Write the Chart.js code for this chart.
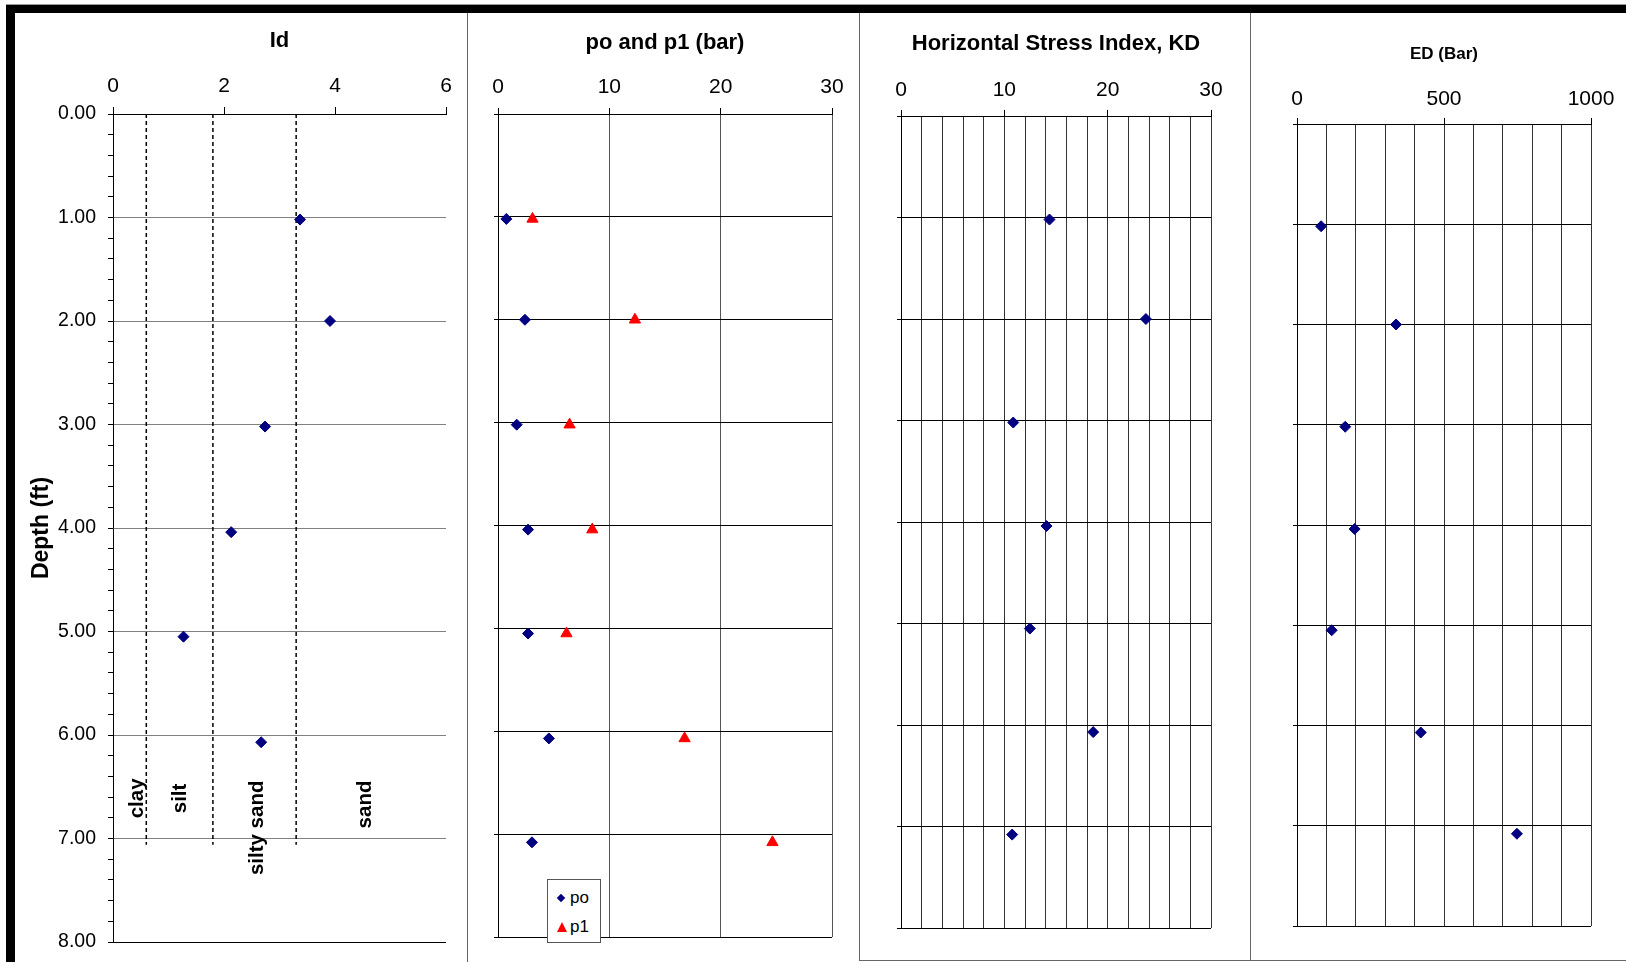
<!DOCTYPE html>
<html>
<head>
<meta charset="utf-8">
<title>DMT profile</title>
<script src="https://cdn.jsdelivr.net/npm/chart.js@4.4.1/dist/chart.umd.min.js"></script>
<style>
  body { margin: 0; background: #fff; width: 1626px; height: 962px; overflow: hidden; position: relative; font-family: "Liberation Sans", Arial, sans-serif; }
  canvas, .line { position: absolute; }
  .legend { position: absolute; left: 547px; top: 879px; width: 52px; height: 62px; border: 1px solid #555; background: #fff; font-size: 17px; color: #000; z-index: 2; }
  .legend div { position: absolute; left: 22px; line-height: 20px; }
  .diamond { position: absolute; width: 6px; height: 6px; background: #000080; transform: rotate(45deg); }
  .tri { position: absolute; width: 0; height: 0; border-left: 5.5px solid transparent; border-right: 5.5px solid transparent; border-bottom: 10px solid #f00; }
</style>
</head>
<body>
<div class="line" style="left:6px;top:4px;width:1620px;height:1px;background:#999"></div>
<div class="line" style="left:6px;top:5px;width:1620px;height:8px;background:#000"></div>
<div class="line" style="left:6px;top:5px;width:9px;height:957px;background:#000"></div>
<div class="line" style="left:467px;top:13px;width:1px;height:949px;background:#666"></div>
<div class="line" style="left:859px;top:13px;width:1px;height:948px;background:#666"></div>
<div class="line" style="left:1250px;top:13px;width:1px;height:948px;background:#666"></div>
<div class="line" style="left:859px;top:960px;width:767px;height:1px;background:#666"></div>

<canvas id="id_canvas" width="450" height="948" style="left:16px;top:14px"></canvas>
<canvas id="p_canvas" width="390" height="948" style="left:468px;top:14px"></canvas>
<canvas id="kd_canvas" width="389" height="946" style="left:860px;top:14px"></canvas>
<canvas id="ed_canvas" width="375" height="946" style="left:1251px;top:14px"></canvas>

<div class="legend">
  <span class="diamond" style="left:10px;top:15px"></span><div style="top:8px">po</div>
  <span class="tri" style="left:9px;top:42px"></span><div style="top:37px">p1</div>
</div>

<script>
// depth of each test (ft)
const depth = [1.02, 2.00, 3.02, 4.04, 5.05, 6.07, 7.08];
const idValues = [3.37, 3.91, 2.74, 2.13, 1.27, 2.67, null];
const poValues = [0.75, 2.42, 1.68, 2.70, 2.70, 4.57, 3.05];
const p1Values = [3.1, 12.3, 6.43, 8.47, 6.15, 16.76, 24.65];
const kdValues = [14.37, 23.7, 10.86, 14.08, 12.47, 18.6, 10.76];
const edValues = [82, 337, 164, 196, 118, 421, 748];

// soil type boundaries on Id
const zoneLimits = [0.6, 1.8, 3.3];
const zoneLineBottom = 7.06;
const soilZones = ['clay', 'silt', 'silty sand', 'sand'];

Chart.defaults.font.family = '"Liberation Sans", Arial, sans-serif';
Chart.defaults.color = '#000';

const isStep = (v, s) => Math.abs(v / s - Math.round(v / s)) < 1e-6;
const points = vals => depth.map((d, i) => ({ x: vals[i], y: d })).filter(p => p.x !== null);

const navy = { pointStyle: 'rectRot', pointRadius: 5.5, backgroundColor: '#000080', borderColor: '#000080', borderWidth: 1 };

const soilLabels = {
    id: 'soilLabels',
    afterDatasetsDraw(chart) {
        const { ctx, scales: { x, y } } = chart;
        const labelX = [0.43, 1.21, 2.6, 4.54];
        const labelTop = [6.42, 6.47, 6.44, 6.44];
        ctx.save();
        ctx.font = 'bold 20.5px "Liberation Sans", Arial, sans-serif';
        ctx.fillStyle = '#000';
        ctx.textAlign = 'right';
        ctx.textBaseline = 'middle';
        soilZones.forEach((name, i) => {
            ctx.save();
            ctx.translate(x.getPixelForValue(labelX[i]), y.getPixelForValue(labelTop[i]));
            ctx.rotate(-Math.PI / 2);
            ctx.fillText(name, 0, 0);
            ctx.restore();
        });
        ctx.restore();
    }
};

// keep tick labels from pushing the plot area in
function noEdgePadding(s) {
    s.paddingTop = 0;
    s.paddingBottom = 0;
}

// y axis shared by the right three panels (no labels)
function depthAxis(width) {
    return {
        type: 'linear', reverse: true, min: 0, max: 8,
        ticks: { stepSize: 1, display: false },
        grid: { color: '#000', tickLength: 4 },
        border: { color: '#000' },
        afterFit: s => { s.width = width; noEdgePadding(s); }
    };
}

const idCanvas = document.getElementById('id_canvas');

new Chart(idCanvas, {
    type: 'scatter',
    data: {
        datasets: [
            { label: 'Id', data: points(idValues), ...navy },
            ...zoneLimits.map(v => ({
                data: [{ x: v, y: 0 }, { x: v, y: zoneLineBottom }],
                showLine: true, borderColor: '#000', borderWidth: 1.5, borderDash: [4, 3], pointRadius: 0
            }))
        ]
    },
    options: {
        responsive: false, animation: false,
        layout: { padding: { left: 0, top: 0, right: 20, bottom: 20 } },
        plugins: { legend: { display: false }, tooltip: { enabled: false } },
        scales: {
            x: {
                type: 'linear', position: 'top', min: 0, max: 6,
                ticks: { stepSize: 2, padding: 8, font: { size: 21 }, maxRotation: 0, autoSkip: false },
                grid: { drawOnChartArea: false, tickLength: 7, color: '#000' },
                border: { color: '#000' },
                title: { display: true, text: 'Id', font: { size: 22, weight: 'bold' }, padding: { top: 14, bottom: 0 } },
                afterFit: s => { s.height = 100; }
            },
            y: {
                type: 'linear', reverse: true, min: 0, max: 8,
                ticks: {
                    stepSize: 0.2, maxTicksLimit: 1000, autoSkip: false, padding: 12, font: { size: 19.5 },
                    callback: v => isStep(v, 1) ? v.toFixed(2) : ''
                },
                grid: {
                    color: c => (c.tick.value === 0 || c.tick.value === 8) ? '#000' : isStep(c.tick.value, 1) ? '#808080' : 'transparent',
                    tickColor: '#000', tickLength: 5
                },
                border: { color: '#000' },
                title: { display: true, text: 'Depth (ft)', font: { size: 23, weight: 'bold' }, padding: { top: 12, bottom: 0 } },
                afterFit: s => { s.width = 97; noEdgePadding(s); }
            }
        }
    },
    plugins: [soilLabels]
});

const pCanvas = document.getElementById('p_canvas');

new Chart(pCanvas, {
    type: 'scatter',
    data: {
        datasets: [
            { label: 'po', data: points(poValues), ...navy },
            { label: 'p1', data: points(p1Values), pointStyle: 'triangle', pointRadius: 6.5, backgroundColor: '#ff0000', borderColor: '#ff0000', borderWidth: 1 }
        ]
    },
    options: {
        responsive: false, animation: false,
        layout: { padding: { left: 0, top: 0, right: 26, bottom: 25 } },
        plugins: { legend: { display: false }, tooltip: { enabled: false } },
        scales: {
            x: {
                type: 'linear', position: 'top', min: 0, max: 30,
                ticks: { stepSize: 10, padding: 8, font: { size: 21 }, maxRotation: 0, autoSkip: false },
                grid: { color: '#555', tickColor: '#000', tickLength: 6 },
                border: { color: '#000' },
                title: { display: true, text: 'po and p1 (bar)', font: { size: 22, weight: 'bold' }, padding: { top: 16, bottom: 0 } },
                afterFit: s => { s.height = 100; }
            },
            y: depthAxis(30)
        }
    }
});

const kdCanvas = document.getElementById('kd_canvas');

new Chart(kdCanvas, {
    type: 'scatter',
    data: {
        datasets: [{ label: 'KD', data: points(kdValues), ...navy }]
    },
    options: {
        responsive: false, animation: false,
        layout: { padding: { left: 0, top: 0, right: 38, bottom: 32 } },
        plugins: { legend: { display: false }, tooltip: { enabled: false } },
        scales: {
            x: {
                type: 'linear', position: 'top', min: 0, max: 30,
                ticks: {
                    stepSize: 2, padding: 7, font: { size: 21 }, maxRotation: 0, autoSkip: false,
                    callback: v => isStep(v, 10) ? v : ''
                },
                grid: { color: '#333', tickColor: c => isStep(c.tick.value, 10) ? '#000' : 'transparent', tickLength: 6 },
                border: { color: '#000' },
                title: { display: true, text: 'Horizontal Stress Index, KD', font: { size: 22, weight: 'bold' }, padding: { top: 17, bottom: 0 } },
                afterFit: s => { s.height = 102; }
            },
            y: depthAxis(41)
        }
    }
});

const edCanvas = document.getElementById('ed_canvas');

new Chart(edCanvas, {
    type: 'scatter',
    data: {
        datasets: [{ label: 'ED', data: points(edValues), ...navy }]
    },
    options: {
        responsive: false, animation: false,
        layout: { padding: { left: 0, top: 0, right: 35, bottom: 34 } },
        plugins: { legend: { display: false }, tooltip: { enabled: false } },
        scales: {
            x: {
                type: 'linear', position: 'top', min: 0, max: 1000,
                ticks: {
                    stepSize: 100, padding: 6, font: { size: 21 }, maxRotation: 0, autoSkip: false,
                    callback: v => isStep(v, 500) ? v : ''
                },
                grid: { color: '#333', tickColor: c => isStep(c.tick.value, 500) ? '#000' : 'transparent', tickLength: 6 },
                border: { color: '#000' },
                title: { display: true, text: 'ED (Bar)', font: { size: 17, weight: 'bold' }, padding: { top: 30, bottom: 0 } },
                afterFit: s => { s.height = 110; }
            },
            y: depthAxis(46)
        }
    }
});
</script>
</body>
</html>
